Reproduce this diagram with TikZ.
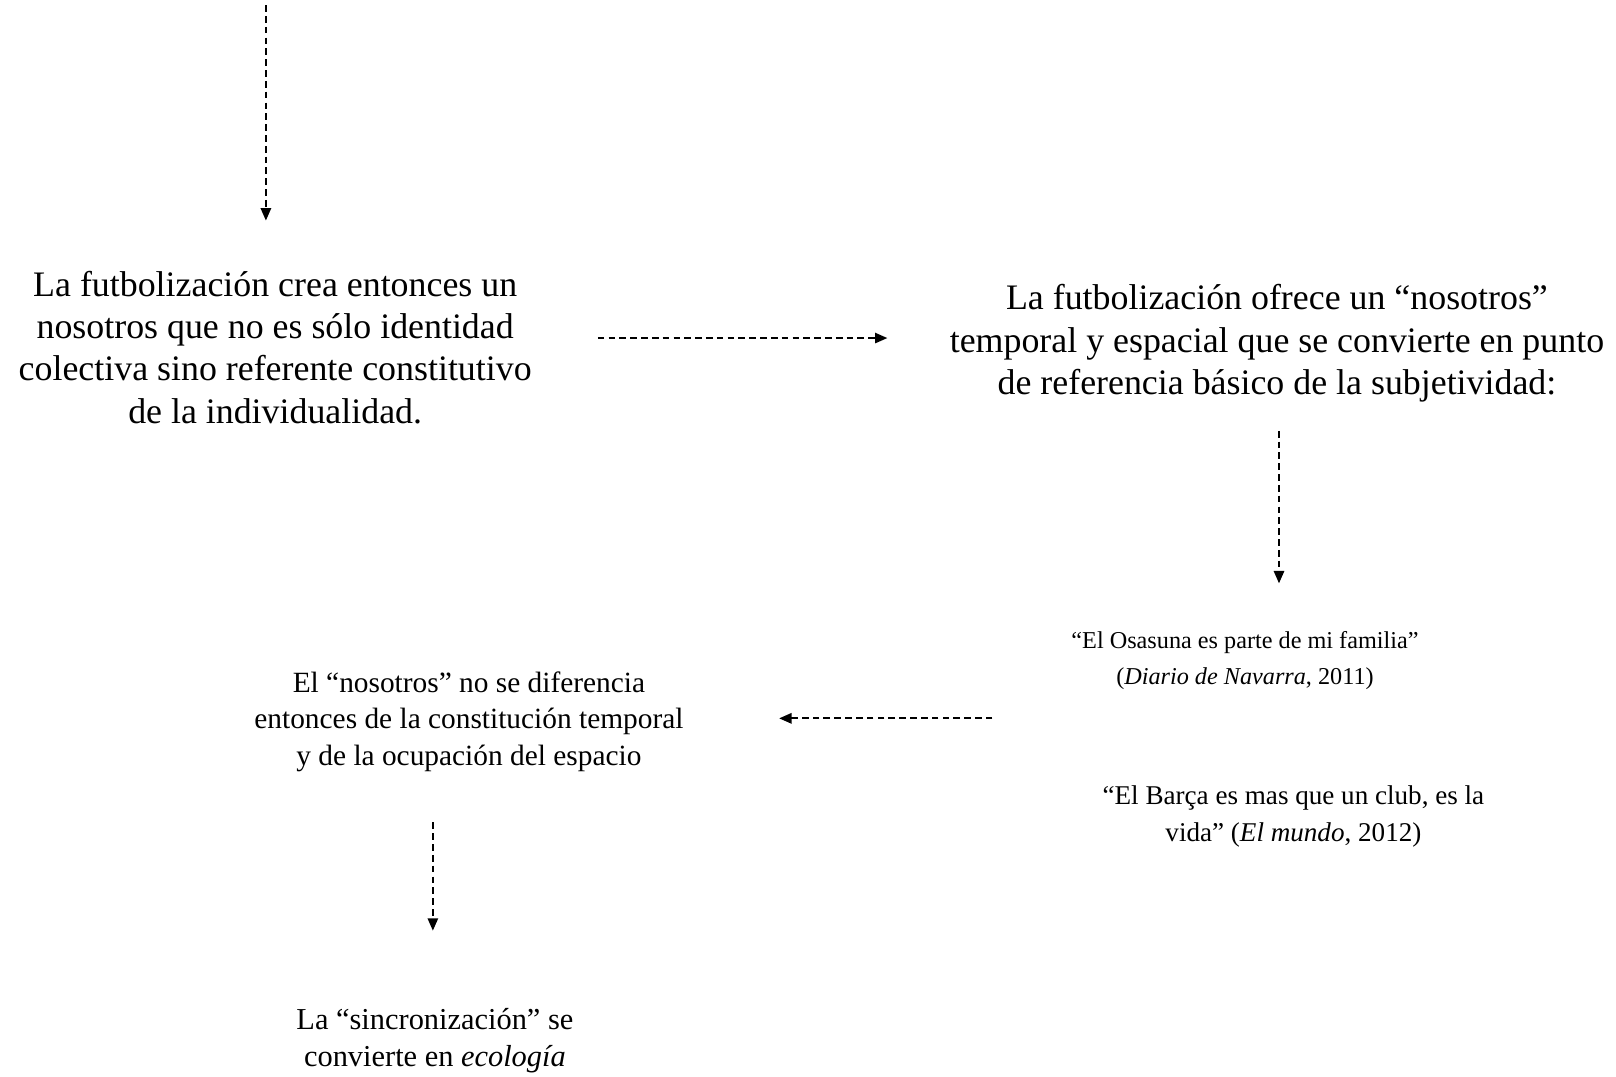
\documentclass[tikz,border=0pt]{standalone}
\usepackage{fontspec}
\setmainfont{Liberation Serif}
\usetikzlibrary{arrows.meta}
\tikzset{
  bigtxt/.style={align=center, inner sep=0pt, font=\fontsize{34.8}{41}\selectfont},
  smalltxt/.style={align=center, inner sep=0pt, font=\fontsize{28.5}{35.5}\selectfont},
  quotetxt/.style={align=center, inner sep=0pt, font=\fontsize{25}{35.5}\selectfont},
  flow/.style={line width=1.8pt, dash pattern=on 6.5pt off 4pt, -{Triangle[width=10pt,length=12pt]}}
}
\begin{document}
\begin{tikzpicture}[x=1pt,y=-1pt]
\useasboundingbox (0,0) rectangle (1568,1045);
\node[bigtxt] (b1) at (267,337) {La futbolización crea entonces un\\nosotros que no es sólo identidad\\colectiva sino referente constitutivo\\de la individualidad.};
\node[bigtxt] (b2) at (1239,333) {La futbolización ofrece un “nosotros”\\temporal y espacial que se convierte en punto\\de referencia básico de la subjetividad:};
\node[quotetxt, font=\fontsize{23.5}{35.5}\selectfont] (q1) at (1208,641) {“El Osasuna es parte de mi familia”\\(\textit{Diario de Navarra}, 2011)};
\node[quotetxt, font=\fontsize{26.3}{35.5}\selectfont] (q2) at (1255,792) {“El Barça es mas que un club, es la\\vida” (\textit{El mundo}, 2012)};
\node[smalltxt] (b3) at (455,700) {El “nosotros” no se diferencia\\entonces de la constitución temporal\\y de la ocupación del espacio};
\node[smalltxt, font=\fontsize{29.5}{35.5}\selectfont] (b4) at (422,1010) {La “sincronización” se\\convierte en \textit{ecología}};
\coordinate (s0) at (258,5);
\coordinate (e0) at (258,214);
\coordinate (s1) at (580,328);
\coordinate (e1) at (861,328);
\coordinate (s2) at (1241,418);
\coordinate (e2) at (1241,566);
\coordinate (s3) at (963,697);
\coordinate (e3) at (756,697);
\coordinate (s4) at (420,798);
\coordinate (e4) at (420,903);
\draw[flow] (s0) -- (e0);
\draw[flow] (s1) -- (e1);
\draw[flow] (s2) -- (e2);
\draw[flow] (s3) -- (e3);
\draw[flow] (s4) -- (e4);
\end{tikzpicture}
\end{document}
